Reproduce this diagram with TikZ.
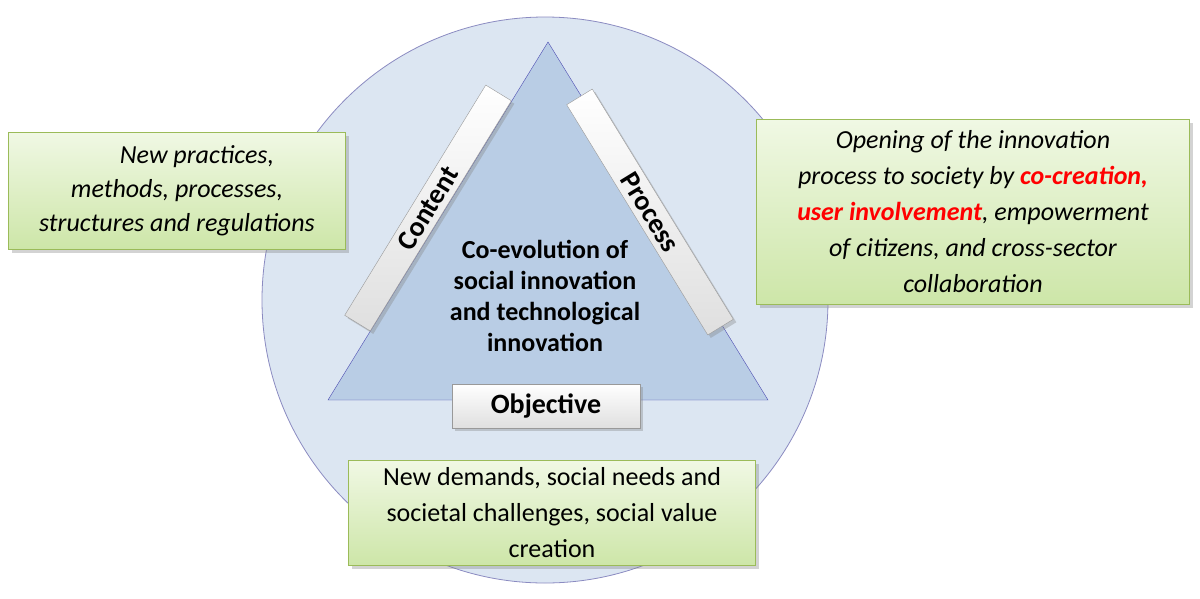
\documentclass[tikz,border=0pt]{standalone}
\usepackage{fontspec}
\setmainfont{Carlito}
\usetikzlibrary{shadows}
\definecolor{circfill}{HTML}{DCE6F2}
\definecolor{trifill}{HTML}{B9CDE5}
\definecolor{gborder}{HTML}{9BBB59}
\definecolor{gtop}{HTML}{F0F8E4}
\definecolor{gbot}{HTML}{CDE6A8}
\tikzset{
 gbox/.style={draw=gborder, top color=gtop, bottom color=gbot, drop shadow={opacity=0.35,shadow xshift=3pt,shadow yshift=-3pt}, align=center, font=\fontsize{26}{34}\selectfont\itshape, inner sep=0pt},
 bar/.style={draw=gray!80, top color=white, bottom color=gray!25, drop shadow={opacity=0.35,shadow xshift=3pt,shadow yshift=-3pt}, font=\fontsize{28}{32}\selectfont\bfseries, inner sep=0pt, anchor=center}
}
\begin{document}
\begin{tikzpicture}[x=1pt,y=-1pt]
\useasboundingbox (0,0) rectangle (1200,598);
\node[circle, draw=gray!70!blue!70, fill=circfill, line width=0.8pt, minimum size=566pt, inner sep=0pt] (circ) at (545,300) {};
\coordinate (apex) at (548,42);
\coordinate (bl) at (328,400);
\coordinate (br) at (768,400);
\draw[draw=gray!60!blue, fill=trifill] (apex) -- (bl) -- (br) -- cycle;
\node[bar, minimum width=270pt, minimum height=30pt, rotate=58.5] (content) at (428,208) {Content};
\node[bar, minimum width=270pt, minimum height=30pt, rotate=-58.5] (process) at (650,212) {Process};
\node[bar, minimum width=188pt, minimum height=44pt] (objective) at (546,406) {Objective};
\node[align=center, font=\fontsize{26}{31}\selectfont\bfseries] (center) at (545,296) {Co-evolution of\\social innovation\\and technological\\innovation};
\node[gbox, minimum width=337pt, minimum height=117pt] (left) at (177,191) {\hspace*{40pt}New practices,\\methods, processes,\\structures and regulations};
\node[gbox, font=\fontsize{26}{36}\selectfont\itshape, minimum width=433pt, minimum height=185pt] (right) at (973,212) {Opening of the innovation\\process to society by {\color{red}\bfseries co-creation,}\\{\color{red}\bfseries user involvement}, empowerment\\of citizens, and cross-sector\\collaboration};
\node[gbox, font=\fontsize{26}{36}\selectfont, minimum width=407pt, minimum height=105pt] (bottom) at (552,513) {New demands, social needs and\\societal challenges, social value\\creation};
\end{tikzpicture}
\end{document}
